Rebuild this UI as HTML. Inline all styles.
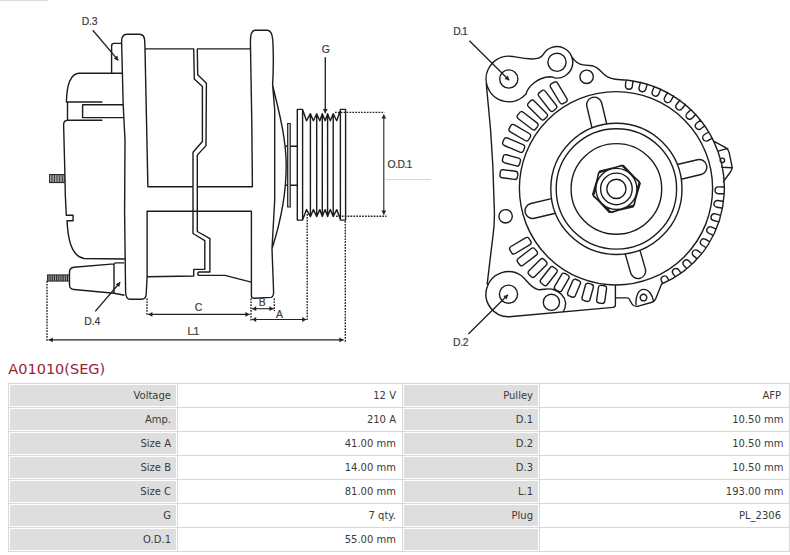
<!DOCTYPE html>
<html lang="en"><head><meta charset="utf-8"><title>A01010(SEG)</title>
<style>
html,body{margin:0;padding:0;background:#fff;}
body{width:790px;height:555px;position:relative;overflow:hidden;font-family:"DejaVu Sans","Liberation Sans",sans-serif;}
#draw{position:absolute;left:0;top:0;width:790px;height:356px;}
#draw svg{display:block;}
h1{position:absolute;left:8.3px;top:359px;margin:0;font:normal 14.5px/20px "DejaVu Sans","Liberation Sans",sans-serif;color:#9a2238;letter-spacing:0;}
table{position:absolute;left:8px;top:383px;width:781px;border-collapse:collapse;table-layout:fixed;font-size:10px;color:#3a3a3a;}
td{border:1px solid #d8d8d8;height:24px;padding:0 5.5px 0 0;text-align:right;vertical-align:middle;box-sizing:border-box;white-space:nowrap;overflow:hidden;}
td.l{background:#dedede;box-shadow:inset 0 0 0 1px #fff;}
col.a{width:168.5px}col.b{width:225px}col.c{width:137px}col.d{width:250.5px}
td i{font-style:normal;padding-right:2.5px;}
</style></head><body>
<div id="draw">
<svg width="790" height="356" viewBox="0 0 790 356">
<g font-family="Liberation Sans, sans-serif" font-size="10.4" fill="#3c3c3c" stroke="#3c3c3c" stroke-width="0.2">
<path d="M0,0.5 L48,0.5" stroke="#dadada" stroke-width="1" fill="none"/>
<path d="M122.5,73.2 L78.6,73.2 C71,74 66.8,84 66.4,102 M66.4,102 L101.9,102 M67.5,102 L67.5,120.2 M123,104.7 L82.6,104.7 L82.6,117.6 L123.3,117.6 M101.9,120.2 L67.5,120.2 Q63.8,120.4 63.6,124.5 L64.8,170 L65.3,195 L66.3,215.3 L73.1,215.3 L73.1,220.8 L67,220.8 C67.8,235 70,256 84,258.5 L124.3,259 M111.6,73.2 L111.6,46 Q111.6,43.4 114,43.4 L121.5,43.4 M125.6,292 L124.6,212 L125,140 L123.2,105 L121.6,42 Q121.4,34.3 127,34.3 L139.5,34.3 Q144.5,34.3 144.7,41 L145,48.9 L147.9,186.7 M147.1,211.3 L147.1,277 L146.2,294 Q146,299.3 141.5,299.3 L130,299.3 Q125.8,299.3 125.6,292 M145,48.9 L193.7,48.9 M197.3,48.9 L250.4,48.9 M147.9,186.7 L193,186.7 M197.3,186.7 L252.4,186.7 M193.7,48.9 L194.3,78.9 L202.4,86.5 L202.4,141.5 L193,152.2 L193,233.5 L204.8,240.6 L204.8,269.4 L193.7,269.4 L193.7,276 M197.3,48.9 L197.7,74.8 L206.4,83.3 L206,145.6 L197.3,155.1 L197.3,231.5 L209.9,238.6 L209.9,272 L198.7,272 Q196.6,273.7 198.7,275.4 L225,275.4 L251.2,282.1 M147.1,276.7 L193.7,276 M252.4,186.7 L251.8,122 L250.4,42 Q250.4,30.2 255,30.2 L267.5,30.2 Q272,30.4 272.8,40 Q274,62 272.6,84.9 L274.7,110 L274.7,200 L272,248.7 L273.6,292 Q273.6,297 271,297.4 L254.4,298.3 Q251.4,298.3 251.4,296 L251.4,211.3 M272.6,84.9 C277,105 286.2,135 286.2,166 C286.2,197 278,230 272,248.7 M285.5,146.3 L297.3,146.3 M285.5,185.3 L297.3,185.3 M297.3,220.1 L297.3,109.4 L302.6,109.4 L306.5,120.8 L310.4,113.7 L313.4,120.8 L316.7,113.7 L319.8,120.8 L322.3,113.7 L325.1,120.8 L327.6,113.7 L330.3,120.8 L333.2,113.7 L336.7,120.8 L340.4,110.2 L340.4,109.4 L345.6,109.4 L345.6,220.1 L340.4,220.1 L340.4,219.5 L336.7,209.6 L333.2,216.6 L330.3,209.6 L327.6,216.6 L325.1,209.6 L322.3,216.6 L319.8,209.6 L316.7,216.6 L313.4,209.6 L310.4,216.6 L306.5,209.6 L302.6,220.1 Z M302.6,109.4 L302.6,220.1 M340.4,109.4 L340.4,220.1 M310.4,113.7 L310.4,216.6 M316.7,113.7 L316.7,216.6 M322.3,113.7 L322.3,216.6 M327.6,113.7 L327.6,216.6 M333.2,113.7 L333.2,216.6" fill="none" stroke="#1c1c1c" stroke-width="1.4" stroke-linejoin="round" stroke-linecap="round"/>
<path d="M147.1,211.3 L251.4,211.3" stroke="#1c1c1c" stroke-width="1.6" fill="none"/>
<rect x="287.6" y="123.5" width="2.7" height="83.5" fill="#bdbdbd" stroke="#1c1c1c" stroke-width="1"/>
<rect x="49.6" y="174.6" width="14.6" height="8" fill="#d4d4d4" stroke="#1c1c1c" stroke-width="1"/>
<path d="M51.3,174.6 L51.3,182.6 M52.9,174.6 L52.9,182.6 M54.5,174.6 L54.5,182.6 M56.2,174.6 L56.2,182.6 M57.8,174.6 L57.8,182.6 M59.4,174.6 L59.4,182.6 M61,174.6 L61,182.6 M62.6,174.6 L62.6,182.6" stroke="#1c1c1c" stroke-width="0.8" fill="none"/>
<rect x="47.4" y="274.9" width="22.1" height="6.2" fill="#b5b5b5" stroke="#1c1c1c" stroke-width="0.9"/>
<path d="M49,274.9 L49,281.1 M50.9,274.9 L50.9,281.1 M52.7,274.9 L52.7,281.1 M54.5,274.9 L54.5,281.1 M56.4,274.9 L56.4,281.1 M58.2,274.9 L58.2,281.1 M60.1,274.9 L60.1,281.1 M62,274.9 L62,281.1 M63.8,274.9 L63.8,281.1 M65.7,274.9 L65.7,281.1 M67.5,274.9 L67.5,281.1" stroke="#1c1c1c" stroke-width="0.95" fill="none"/>
<path d="M114,263.9 L74,267.3 Q69.5,267.8 69.5,272 L69.5,285 Q69.5,289 74,289.5 L114,293.2 M114,293.2 L124.5,295.3 M114,264.2 L114,293 M114,264.5 Q114.2,262.9 116,262.9 L124.3,262.9" fill="none" stroke="#1c1c1c" stroke-width="1.4" stroke-linejoin="round"/>
<path d="M47,281 L47,342 M147,298.5 L147,316 M251,298.5 L251,321 M274.3,298.5 L274.3,311 M307.2,214 L307.2,321 M345.3,221 L345.3,341.5 M335,112.4 L384.6,112.4 M336,216.2 L386.6,216.2" fill="none" stroke="#222" stroke-width="1.4" stroke-dasharray="1.7 1.2"/>
<path d="M48.6,339.9 L343.6,339.9" stroke="#222" stroke-width="1.1" fill="none"/>
<polygon points="343.6,339.9 339.4,342.3 339.4,337.5" fill="#222" stroke="none"/>
<polygon points="48.6,339.9 52.8,337.5 52.8,342.3" fill="#222" stroke="none"/>
<path d="M148.2,314.4 L249.6,314.4" stroke="#222" stroke-width="1.1" fill="none"/>
<polygon points="249.6,314.4 245.4,316.8 245.4,312" fill="#222" stroke="none"/>
<polygon points="148.2,314.4 152.4,312 152.4,316.8" fill="#222" stroke="none"/>
<path d="M252,308.7 L273.6,308.7" stroke="#222" stroke-width="1.1" fill="none"/>
<polygon points="273.6,308.7 269.4,311.1 269.4,306.3" fill="#222" stroke="none"/>
<polygon points="252,308.7 256.2,306.3 256.2,311.1" fill="#222" stroke="none"/>
<path d="M252,319.5 L306.4,319.5" stroke="#222" stroke-width="1.1" fill="none"/>
<polygon points="306.4,319.5 302.2,321.9 302.2,317.1" fill="#222" stroke="none"/>
<polygon points="252,319.5 256.2,317.1 256.2,321.9" fill="#222" stroke="none"/>
<path d="M383.8,114.4 L383.8,214.8" stroke="#222" stroke-width="1.1" fill="none"/>
<polygon points="383.8,214.8 381.4,210.6 386.2,210.6" fill="#222" stroke="none"/>
<polygon points="383.8,114.4 386.2,118.6 381.4,118.6" fill="#222" stroke="none"/>
<path d="M325.3,57.3 L325.3,113.2" stroke="#222" stroke-width="1.35" fill="none"/>
<polygon points="325.3,113.2 322.9,109 327.7,109" fill="#222" stroke="none"/>
<path d="M92.8,30.2 L118.3,60.4" stroke="#222" stroke-width="1.35" fill="none"/>
<polygon points="118.3,60.4 113.8,58.7 117.4,55.6" fill="#222" stroke="none"/>
<path d="M95.2,311.4 L120.2,282.3" stroke="#222" stroke-width="1.35" fill="none"/>
<polygon points="120.2,282.3 119.3,287 115.6,283.9" fill="#222" stroke="none"/>
<path d="M469.4,40.8 L509.2,80.2" stroke="#222" stroke-width="1.35" fill="none"/>
<polygon points="509.2,80.2 504.5,79 507.9,75.5" fill="#222" stroke="none"/>
<path d="M468.4,334 L508,294.8" stroke="#222" stroke-width="1.35" fill="none"/>
<polygon points="508,294.8 506.7,299.5 503.3,296" fill="#222" stroke="none"/>
<path d="M385.5,179.6 L431,179.6" stroke="#d4d4d4" stroke-width="1" fill="none"/>
<text x="81.7 89 91.8" y="25.2">D.3</text>
<text x="84.3 91.7 94.4" y="324.6">D.4</text>
<text x="194.7" y="310.9">C</text>
<text x="258.8" y="306.2">B</text>
<text x="276" y="317.5">A</text>
<text x="187.4 191.9 193.4" y="334.8">L.1</text>
<text x="321.7" y="53.4">G</text>
<text x="387.6 395.1 397.4 404.3 406.5" y="168.2">O.D.1</text>
<text x="453.3 460 462.1" y="35.3">D.1</text>
<text x="453 460.2 462.7" y="346.3">D.2</text>
<path d="M606.8,188.9 a9.6,9.6 0 1,0 19.2,0 a9.6,9.6 0 1,0 -19.2,0 M600.6,188.9 a15.8,15.8 0 1,0 31.6,0 a15.8,15.8 0 1,0 -31.6,0 M595.9,188.9 a20.5,20.5 0 1,0 41,0 a20.5,20.5 0 1,0 -41,0 M571.1,188.9 a45.3,45.3 0 1,0 90.6,0 a45.3,45.3 0 1,0 -90.6,0 M556.2,188.9 a60.2,60.2 0 1,0 120.4,0 a60.2,60.2 0 1,0 -120.4,0 M550.8,188.9 a65.6,65.6 0 1,0 131.2,0 a65.6,65.6 0 1,0 -131.2,0 M519.4,188.3 a96.6,96.6 0 1,0 193.2,0 a96.6,96.6 0 1,0 -193.2,0 M640.2,183.2 L633.3,206.7 L609.4,212.4 L592.6,194.6 L599.5,171.1 L623.4,165.4 Z M639.3,181.5 L634.3,205 L611.4,212.5 L593.5,196.3 L598.5,172.8 L621.4,165.3 Z M606.7,124 L601.7,103 A7.6,7.6 0 0,0 586.9,106.5 L592,128 M681.3,179.2 L701,174.5 A7.6,7.6 0 0,0 697.4,159.7 L677.3,164.5 M625.2,253.9 L630.8,273.3 A7.6,7.6 0 0,0 645.4,269.1 L639.9,250.1 M551.5,198.6 L530.9,203.5 A7.6,7.6 0 0,0 534.4,218.3 L555.5,213.3 M499.7,79 a9.1,9.1 0 1,0 18.2,0 a9.1,9.1 0 1,0 -18.2,0 M547.9,62.3 a9.1,9.1 0 1,0 18.2,0 a9.1,9.1 0 1,0 -18.2,0 M579.9,76.8 a6.7,6.7 0 1,0 13.4,0 a6.7,6.7 0 1,0 -13.4,0 M499.4,294.2 a9.1,9.1 0 1,0 18.2,0 a9.1,9.1 0 1,0 -18.2,0 M543.3,302.3 a8.1,8.1 0 1,0 16.2,0 a8.1,8.1 0 1,0 -16.2,0 M498.9,216.3 a6.7,6.7 0 1,0 13.4,0 a6.7,6.7 0 1,0 -13.4,0 M640.2,297.6 a3.3,3.3 0 1,0 6.6,0 a3.3,3.3 0 1,0 -6.6,0 M514.4,179.4 L502.3,177.8 Q499.6,177.4 500,174.7 L500.3,172 Q500.7,169.4 503.3,169.7 L515.4,171.3 Q518.1,171.7 517.8,174.4 L517.4,177.1 Q517,179.7 514.4,179.4 Z M516.3,165.9 L504.4,162.7 Q501.8,161.9 502.5,159.3 L503.2,156.7 Q503.9,154.1 506.5,154.8 L518.5,158.1 Q521.1,158.8 520.3,161.4 L519.6,164 Q518.9,166.6 516.3,165.9 Z M519.8,152.1 L504.3,145.5 Q501.8,144.4 502.9,141.9 L503.9,139.5 Q505,137 507.5,138 L523,144.7 Q525.5,145.7 524.4,148.2 L523.4,150.7 Q522.3,153.2 519.8,152.1 Z M525.1,140.5 L510.3,131.9 Q508,130.5 509.4,128.2 L510.7,125.8 Q512.1,123.5 514.4,124.9 L529.2,133.5 Q531.5,134.8 530.2,137.2 L528.8,139.5 Q527.5,141.8 525.1,140.5 Z M532.1,129.3 L518.3,118.7 Q516.1,117.1 517.8,114.9 L519.4,112.8 Q521,110.6 523.2,112.3 L537,122.9 Q539.1,124.5 537.5,126.6 L535.8,128.8 Q534.2,130.9 532.1,129.3 Z M540.9,119.1 L528.5,106.7 Q526.6,104.8 528.5,102.9 L530.4,101 Q532.3,99.1 534.2,101 L546.6,113.4 Q548.6,115.3 546.6,117.2 L544.7,119.1 Q542.8,121.1 540.9,119.1 Z M549.8,110.2 L539,96.4 Q537.3,94.2 539.4,92.6 L541.6,90.9 Q543.7,89.2 545.3,91.4 L556.2,105.2 Q557.8,107.4 555.7,109 L553.6,110.7 Q551.5,112.4 549.8,110.2 Z M559.8,102.5 L550.7,87.4 Q549.3,85.1 551.6,83.7 L553.9,82.3 Q556.3,81 557.7,83.3 L566.7,98.4 Q568.1,100.7 565.8,102.1 L563.5,103.4 Q561.2,104.8 559.8,102.5 Z M529.7,244.9 L515.2,253.5 Q512.8,254.9 511.5,252.6 L510,250.2 Q508.7,247.9 511,246.5 L525.5,237.9 Q527.9,236.5 529.2,238.8 L530.7,241.2 Q532,243.6 529.7,244.9 Z M536.3,255.1 L523.3,265 Q521.1,266.6 519.5,264.5 L517.8,262.3 Q516.2,260.1 518.3,258.5 L531.3,248.5 Q533.5,246.9 535.1,249.1 L536.8,251.3 Q538.5,253.4 536.3,255.1 Z M546.1,265.3 L534.8,276.5 Q532.9,278.5 531,276.6 L529,274.6 Q527.1,272.7 529,270.8 L540.3,259.5 Q542.2,257.6 544.1,259.5 L546.1,261.5 Q548,263.4 546.1,265.3 Z M556.5,272.8 L547.4,284.5 Q545.8,286.7 543.6,285 L541.4,283.3 Q539.3,281.6 540.9,279.5 L550.1,267.7 Q551.7,265.6 553.8,267.3 L556.1,269 Q558.2,270.6 556.5,272.8 Z M568.7,278.7 L561.9,290.3 Q560.6,292.6 558.2,291.2 L555.8,289.8 Q553.5,288.5 554.8,286.1 L561.6,274.6 Q563,272.2 565.3,273.6 L567.7,275 Q570,276.4 568.7,278.7 Z M580.2,284.1 L575.4,295.6 Q574.3,298 571.8,297 L569.2,295.9 Q566.8,294.8 567.8,292.3 L572.7,280.9 Q573.7,278.4 576.2,279.5 L578.8,280.6 Q581.3,281.7 580.2,284.1 Z M593.3,287.5 L590,299.5 Q589.3,302.1 586.7,301.3 L584,300.6 Q581.4,299.9 582.1,297.3 L585.4,285.3 Q586.1,282.7 588.7,283.4 L591.4,284.2 Q594,284.9 593.3,287.5 Z M606.5,288.8 L604.8,301.1 Q604.4,303.7 601.7,303.4 L599,303 Q596.3,302.6 596.7,299.9 L598.4,287.7 Q598.8,285 601.4,285.4 L604.2,285.7 Q606.9,286.1 606.5,288.8 Z M626,80.1 L625.4,85.7 A3.5,3.5 0 0,0 632.3,86.6 L633,80.9 M640.4,82.3 L639,87.8 A3.5,3.5 0 0,0 645.7,89.6 L647.2,84.1 M654.3,86.4 L652.2,91.7 A3.5,3.5 0 0,0 658.6,94.4 L660.8,89.1 M667.6,92.4 L664.7,97.3 A3.5,3.5 0 0,0 670.8,100.8 L673.6,95.8 M679.9,100 L676.5,104.5 A3.5,3.5 0 0,0 682,108.8 L685.5,104.3 M691,109.4 L687.1,113.2 A3.5,3.5 0 0,0 692.1,118.2 L695.9,114.3 M700.7,120.1 L696.5,123.3 A3.5,3.5 0 0,0 700.8,128.8 L704.9,125.7 M708.8,132 L704.5,134.5 A3.5,3.5 0 0,0 708,140.6 L712.3,138.1 M723.7,187 L718.5,186.9 A3.4,3.4 0 0,0 718.4,193.7 L723.6,193.8 M722.7,201.3 L717.9,200.5 A3.4,3.4 0 0,0 716.9,207.3 L721.7,208 M719.8,215.2 L715.4,213.9 A3.4,3.4 0 0,0 713.6,220.5 L717.9,221.7 M715.1,228.6 L711.2,226.9 A3.4,3.4 0 0,0 708.5,233.1 L712.3,234.8 M708.6,241.2 L705.3,239.2 A3.4,3.4 0 0,0 701.8,245 L705.1,247 M700.6,252.8 L697.8,250.6 A3.4,3.4 0 0,0 693.5,255.9 L696.3,258.1 M691.1,263.2 L688.9,260.9 A3.4,3.4 0 0,0 683.9,265.5 L686.2,267.9 M680.4,272.2 L678.7,269.9 A3.4,3.4 0 0,0 673.1,273.8 L674.8,276.2 M668.5,279.7 L667.3,277.5 A3.4,3.4 0 0,0 661.3,280.6 L662.5,282.9 M526,94 A22.8,22.8 0 1,1 512.8,56.5 C526.6,58.9 539.3,61.3 543.3,54.4 A15.8,15.8 0 1,1 554.3,77.9 M526,94 C528,86 538,77.6 549.7,76.8 Q554,76.8 554.3,77.9 M571.8,56.9 C575,61.5 578,64.3 583,64.9 L592,65.8 C597,66.5 600,70.5 603,73.5 C607,77.5 612,79.6 620.8,79.7 A109.2,109.2 0 0,1 713.6,141.1 L725.6,147.6 Q728.4,149.2 729.1,152.3 L732.2,167.4 Q732.4,169.2 729.7,173 L723.4,181.6 M713.6,141.1 A107.6,107.6 0 0,1 708,245 A104.5,104.5 0 0,1 661.6,284 L657,295.5 Q655,301.5 652,302.3 L637.5,306.3 Q633.5,306.8 632,304 L629.6,299.6 Q629,298 627,297.9 L615.6,297.8 M615.4,285.3 L615.4,305 Q615.3,307.2 613,307.4 L509.3,316.8 M509.3,316.8 A22.6,22.6 0 1,1 521.5,275.7 C526.5,279.5 530,287.5 538,289.6 C543,290.3 547.5,287.6 553.4,289.5 C559.5,291.5 565,296.5 565.6,302.7 Q565.8,307.5 563.3,311.5 M486.3,84 L490.6,130 L492.8,165 Q493.8,195 494.4,212 Q494.6,224 493.2,234 L490.4,256.8 L487.2,284 M719,150.9 L727.8,148.4 M721.6,167.3 L732.2,167.8 M720.2,160.3 a2.2,2.2 0 1,0 4.4,0 a2.2,2.2 0 1,0 -4.4,0 M636,304.5 C635.5,296 638.5,289.4 643.6,289.4 C649,289.4 652.5,295 653.6,301.5" fill="none" stroke="#1c1c1c" stroke-width="1.4" stroke-linejoin="round" stroke-linecap="round"/>
</g>
</svg>
</div>
<h1>A01010(SEG)</h1>
<table><colgroup><col class="a"><col class="b"><col class="c"><col class="d"></colgroup>
<tr><td class="l">Voltage</td><td class="v">12 V</td><td class="l">Pulley</td><td class="v"><i>AFP</i></td></tr>
<tr><td class="l">Amp.</td><td class="v">210 A</td><td class="l">D.1</td><td class="v">10.50 mm</td></tr>
<tr><td class="l">Size A</td><td class="v">41.00 mm</td><td class="l">D.2</td><td class="v">10.50 mm</td></tr>
<tr><td class="l">Size B</td><td class="v">14.00 mm</td><td class="l">D.3</td><td class="v">10.50 mm</td></tr>
<tr><td class="l">Size C</td><td class="v">81.00 mm</td><td class="l">L.1</td><td class="v">193.00 mm</td></tr>
<tr><td class="l">G</td><td class="v">7 qty.</td><td class="l">Plug</td><td class="v"><i>PL_2306</i></td></tr>
<tr><td class="l">O.D.1</td><td class="v">55.00 mm</td><td class="l"></td><td class="v"></td></tr>
</table>
</body></html>
